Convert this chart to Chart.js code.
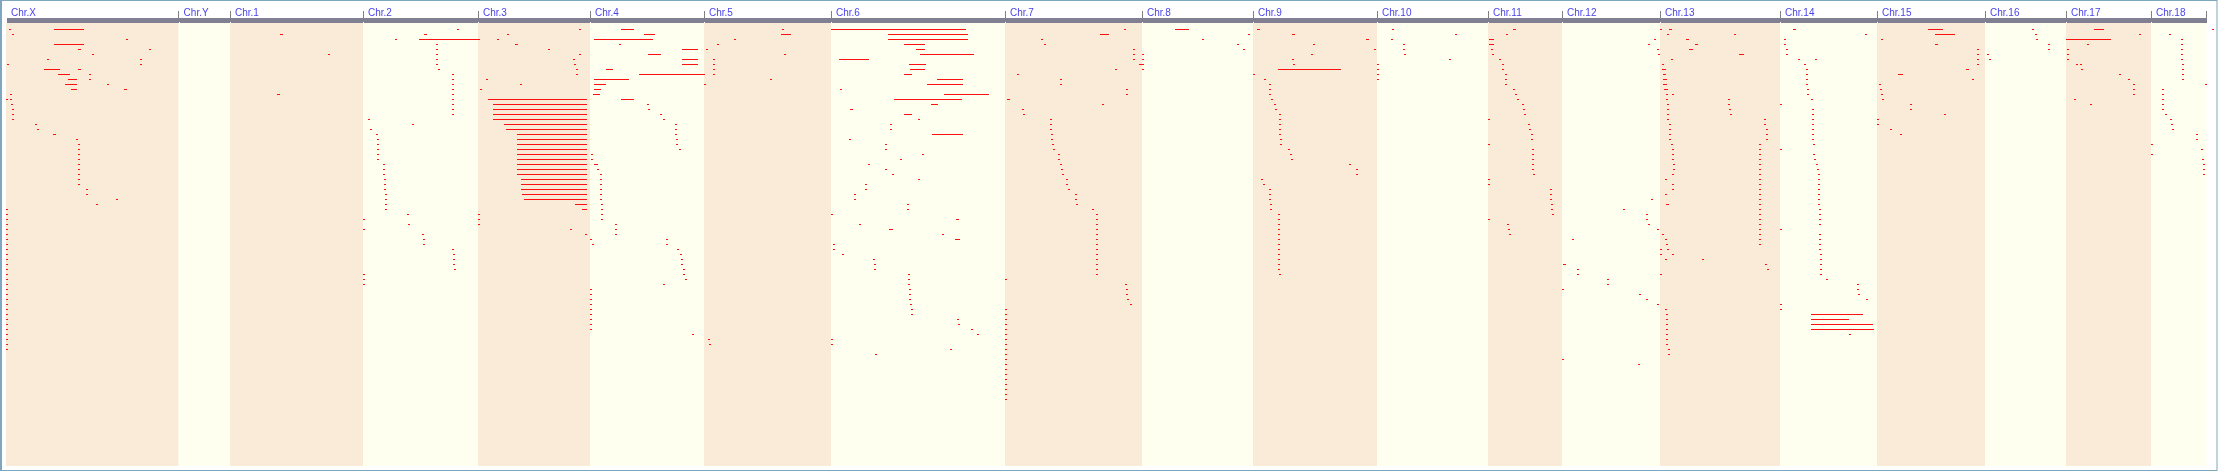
<!DOCTYPE html>
<html>
<head>
<meta charset="utf-8">
<title>Chromosome map</title>
<style>
  html, body { margin: 0; padding: 0; background: #fff; overflow: hidden; }
  canvas { display: block; }
</style>
<script src="https://cdn.jsdelivr.net/npm/chart.js@4/dist/chart.umd.min.js"></script>
</head>
<body>
<canvas id="chromChart" width="2218" height="471"></canvas>
<script>
// chromosome names and where each one starts on the concatenated axis
const chromNames = ['Chr.X', 'Chr.Y', 'Chr.1', 'Chr.2', 'Chr.3', 'Chr.4', 'Chr.5', 'Chr.6', 'Chr.7', 'Chr.8', 'Chr.9',
    'Chr.10', 'Chr.11', 'Chr.12', 'Chr.13', 'Chr.14', 'Chr.15', 'Chr.16', 'Chr.17', 'Chr.18', ''];
const chromStarts = [6, 178.6, 230, 363, 478, 590, 704, 831, 1005, 1142, 1253, 1377, 1488, 1562, 1660, 1780, 1877, 1985, 2066, 2151, 2206.6];

// spans are [row, start, end], dots are [row, position]
const chrXSpans = [[0, 54, 84], [3, 54, 84], [4, 78, 81], [8, 44, 60], [8, 78, 81], [9, 58, 70], [10, 68, 77], [11, 65, 77], [12, 71, 77], [12, 124, 127], [21, 53, 56]];
const chrXDots = [[0, 10], [1, 13], [2, 127], [4, 150], [5, 93], [6, 48], [6, 141], [7, 8], [7, 141], [9, 90], [10, 90], [11, 108],
    [13, 11], [14, 7], [14, 11], [15, 12], [16, 13], [17, 13], [18, 13], [19, 36], [20, 38], [22, 77],
    [23, 79], [24, 79], [25, 79], [26, 79], [27, 79], [28, 79], [29, 79], [30, 79], [31, 79], [32, 87], [33, 87], [34, 117], [35, 97],
    [36, 7], [37, 7], [38, 7], [39, 7], [40, 7], [41, 7], [42, 7], [43, 7], [44, 7], [45, 7], [46, 7], [47, 7], [48, 7], [49, 7], [50, 7],
    [51, 7], [52, 7], [53, 7], [54, 7], [55, 7], [56, 7], [57, 7], [58, 7], [59, 7], [60, 7], [61, 7], [62, 7], [63, 7], [64, 7]];

const chr1Spans = [[1, 280, 283], [13, 277, 280]];
const chr1Dots = [[5, 329]];

const chr2Spans = [[1, 424, 427], [2, 419, 480]];
const chr2Dots = [[0, 458], [2, 396], [3, 437], [4, 437], [5, 437], [6, 437], [7, 437], [8, 439],
    [9, 453], [10, 453], [11, 453], [12, 453], [13, 453], [14, 453], [15, 453], [16, 453], [17, 453],
    [18, 369], [19, 413], [20, 371], [21, 377], [22, 378], [23, 378], [24, 378], [25, 378], [26, 378],
    [27, 384], [28, 384], [29, 384], [30, 385], [31, 385], [32, 385], [33, 386], [34, 386], [35, 386], [36, 386],
    [37, 408], [38, 364], [39, 409], [40, 364], [41, 423], [42, 424], [43, 424], [44, 453], [45, 454], [46, 454], [47, 454], [48, 455],
    [49, 364], [50, 364], [51, 364]];

const chr3Spans = [[14, 488, 587], [15, 493, 587], [16, 493, 587], [17, 493, 587], [18, 493, 587], [19, 504, 587], [20, 506, 587],
    [21, 517, 587], [22, 517, 587], [23, 517, 587], [24, 517, 587], [25, 517, 587], [26, 517, 587], [27, 517, 587], [28, 517, 587], [29, 517, 587],
    [30, 521, 587], [31, 521, 587], [32, 521, 587], [33, 522, 587], [34, 524, 587], [35, 575, 587], [36, 582, 587], [3, 515, 518]];
const chr3Dots = [[0, 580], [1, 508], [2, 498], [4, 549], [5, 580], [6, 574], [7, 575], [8, 577], [9, 577], [10, 487], [11, 521], [12, 481],
    [37, 479], [38, 479], [39, 479], [40, 571], [41, 586]];

const chr4Spans = [[0, 621, 634], [1, 644, 655], [2, 594, 653], [4, 682, 698], [5, 648, 661], [6, 682, 698], [7, 682, 698], [8, 606, 613],
    [9, 639, 705], [10, 594, 629], [11, 594, 606], [12, 594, 601], [13, 593, 600], [14, 621, 634], [27, 594, 598]];
const chr4Dots = [[3, 620], [15, 648], [16, 649], [17, 661], [18, 664], [19, 676], [20, 676], [21, 676], [22, 677], [23, 677], [24, 680],
    [25, 592], [26, 592], [28, 598], [29, 601], [30, 601], [31, 601], [32, 601], [33, 601], [34, 601], [35, 602], [36, 602], [37, 602], [38, 602],
    [39, 616], [40, 616], [41, 616], [42, 591], [42, 667], [43, 593], [43, 667], [44, 678], [45, 681], [46, 682], [47, 682], [48, 684], [49, 684], [50, 686],
    [51, 664], [52, 591], [53, 591], [54, 591], [55, 591], [56, 591], [57, 591], [58, 591], [59, 591], [60, 591], [61, 693]];

const chr5Spans = [[1, 781, 791]];
const chr5Dots = [[0, 783], [2, 735], [3, 718], [4, 707], [5, 785], [6, 714], [7, 714], [8, 714], [9, 714], [10, 771], [11, 705], [62, 709], [63, 710]];

const chr6Spans = [[0, 831, 966], [1, 888, 968], [2, 888, 968], [3, 904, 925], [4, 916, 925], [5, 920, 974], [6, 839, 869], [7, 909, 926], [8, 910, 925],
    [9, 904, 912], [10, 937, 963], [11, 927, 963], [13, 944, 989], [14, 894, 962], [15, 931, 938], [16, 850, 853], [17, 904, 912], [21, 932, 963],
    [38, 956, 959], [40, 889, 893], [42, 955, 960]];
const chr6Dots = [[12, 841], [18, 919], [19, 891], [20, 891], [22, 850], [23, 886], [24, 886], [25, 923], [26, 901], [27, 869], [28, 886], [29, 893], [30, 919],
    [31, 866], [32, 866], [33, 855], [34, 855], [35, 908], [36, 908], [37, 832], [39, 860], [41, 943], [43, 834], [44, 834], [45, 843], [46, 874], [47, 875], [48, 875],
    [49, 909], [50, 909], [51, 909], [52, 910], [53, 910], [54, 910], [55, 911], [56, 912], [57, 912], [58, 958], [59, 959], [60, 972], [61, 978],
    [62, 832], [63, 832], [64, 951], [65, 876]];

const chr7Spans = [[1, 1100, 1109], [14, 1007, 1010]];
const chr7Dots = [[0, 1125], [2, 1042], [3, 1045], [4, 1134], [5, 1134], [6, 1134], [8, 1116], [9, 1018], [10, 1061], [11, 1061], [12, 1127], [13, 1127],
    [15, 1103], [16, 1023], [17, 1024], [18, 1051], [19, 1051], [20, 1051], [21, 1052], [22, 1052], [23, 1053], [24, 1054], [25, 1059], [26, 1059],
    [27, 1061], [28, 1062], [29, 1063], [30, 1067], [31, 1067], [32, 1069], [33, 1076], [34, 1076], [35, 1077], [36, 1093],
    [37, 1097], [38, 1097], [39, 1097], [40, 1097], [41, 1097], [42, 1097], [43, 1097], [44, 1097], [45, 1097], [46, 1097], [47, 1097], [48, 1097], [49, 1097],
    [50, 1006], [51, 1126], [52, 1127], [53, 1127], [54, 1128], [55, 1131],
    [56, 1006], [57, 1006], [58, 1006], [59, 1006], [60, 1006], [61, 1006], [62, 1006], [63, 1006], [64, 1006], [65, 1006],
    [66, 1006], [67, 1006], [68, 1006], [69, 1006], [70, 1006], [71, 1006], [72, 1006], [73, 1006], [74, 1006]];

const chr8Spans = [[0, 1175, 1189], [7, 1139, 1144]];
const chr8Dots = [[1, 1249], [2, 1203], [3, 1238], [4, 1244], [5, 1143], [6, 1143], [8, 1143]];

const chr9Spans = [[0, 1257, 1260], [1, 1292, 1295], [2, 1366, 1369], [8, 1278, 1341]];
const chr9Dots = [[3, 1314], [4, 1375], [5, 1312], [6, 1293], [7, 1294], [9, 1254], [10, 1265], [11, 1270], [12, 1270], [13, 1270], [14, 1272], [15, 1275], [16, 1276],
    [17, 1280], [18, 1280], [19, 1280], [20, 1280], [21, 1280], [22, 1281], [23, 1281], [24, 1289], [25, 1291], [26, 1292], [27, 1350], [28, 1357], [29, 1357],
    [30, 1262], [31, 1264], [32, 1270], [33, 1270], [34, 1270], [35, 1271], [36, 1271],
    [37, 1279], [38, 1279], [39, 1279], [40, 1279], [41, 1279], [42, 1279], [43, 1279], [44, 1279], [45, 1279], [46, 1279], [47, 1279], [48, 1279], [49, 1280]];

const chr10Spans = [];
const chr10Dots = [[0, 1393], [1, 1456], [2, 1392], [3, 1404], [4, 1404], [5, 1405], [6, 1450], [7, 1378], [8, 1378], [9, 1378], [10, 1378]];

const chr11Spans = [[0, 1513, 1516], [2, 1489, 1494], [3, 1489, 1494]];
const chr11Dots = [[1, 1507], [4, 1492], [5, 1493], [6, 1500], [7, 1503], [8, 1503], [9, 1506], [10, 1506], [11, 1506], [12, 1514], [13, 1516], [14, 1518],
    [15, 1523], [16, 1524], [17, 1525], [18, 1489], [19, 1529], [20, 1530], [21, 1532], [22, 1532], [23, 1489], [24, 1533], [25, 1533], [26, 1533], [27, 1533], [28, 1533], [29, 1534],
    [30, 1489], [31, 1489], [32, 1551], [33, 1551], [34, 1551], [35, 1552], [36, 1552], [37, 1553], [38, 1489], [39, 1508], [40, 1509], [41, 1510]];

const chr12Spans = [[47, 1563, 1566]];
const chr12Dots = [[2, 1655], [3, 1649], [4, 1658], [5, 1659], [34, 1652], [36, 1624], [37, 1647], [38, 1647], [39, 1649], [40, 1658], [42, 1573],
    [48, 1578], [49, 1578], [50, 1608], [51, 1608], [52, 1563], [53, 1640], [54, 1647], [55, 1658], [66, 1563], [67, 1639]];

const chr13Spans = [[0, 1669, 1672], [2, 1686, 1689], [3, 1695, 1698], [4, 1689, 1693], [5, 1739, 1744], [8, 1662, 1666], [9, 1663, 1666], [10, 1663, 1667], [11, 1663, 1667], [12, 1664, 1668], [35, 1666, 1669]];
const chr13Dots = [[0, 1661], [1, 1668], [1, 1735], [6, 1672], [7, 1663], [13, 1667], [13, 1673], [14, 1667], [14, 1729], [15, 1668], [15, 1729], [16, 1668], [16, 1730],
    [17, 1668], [17, 1731], [18, 1668], [18, 1765], [19, 1670], [19, 1765], [20, 1670], [20, 1767], [21, 1670], [21, 1767], [22, 1670], [22, 1767],
    [23, 1672], [24, 1673], [25, 1673], [26, 1673], [27, 1674], [28, 1674], [29, 1673], [30, 1666], [31, 1673], [32, 1673], [33, 1666],
    [23, 1760], [24, 1760], [25, 1760], [26, 1760], [27, 1760], [28, 1760], [29, 1760], [30, 1760], [31, 1760], [32, 1760], [33, 1760],
    [34, 1760], [35, 1760], [36, 1760], [37, 1760], [38, 1760], [39, 1760], [40, 1760], [41, 1760], [42, 1760], [43, 1760],
    [41, 1663], [42, 1666], [43, 1667], [44, 1661], [44, 1668], [45, 1661], [45, 1673], [46, 1666], [46, 1703], [47, 1766], [48, 1768], [49, 1661],
    [56, 1666], [57, 1667], [58, 1667], [59, 1667], [60, 1667], [61, 1667], [62, 1667], [63, 1667], [64, 1669], [65, 1669]];

const chr14Spans = [[0, 1793, 1796], [57, 1811, 1863], [58, 1811, 1849], [59, 1811, 1873], [60, 1811, 1874]];
const chr14Dots = [[1, 1866], [2, 1785], [3, 1785], [4, 1787], [5, 1787], [6, 1799], [6, 1816], [7, 1805], [8, 1807], [9, 1807], [10, 1807], [11, 1807], [12, 1808], [13, 1808], [14, 1812], [15, 1781],
    [16, 1813], [17, 1813], [18, 1813], [19, 1813], [20, 1813], [21, 1813], [22, 1813], [23, 1814], [24, 1781], [25, 1814], [26, 1815], [27, 1817], [28, 1818],
    [29, 1819], [30, 1819], [31, 1819], [32, 1819], [33, 1819], [34, 1819], [35, 1819], [36, 1820], [37, 1820], [38, 1820], [39, 1820], [40, 1781],
    [41, 1820], [42, 1820], [43, 1820], [44, 1820], [45, 1821], [46, 1821], [47, 1821], [48, 1821], [49, 1821], [50, 1827], [51, 1858], [52, 1858], [53, 1859], [54, 1867],
    [55, 1781], [56, 1781], [61, 1850]];

const chr15Spans = [[0, 1928, 1943], [1, 1935, 1955], [3, 1935, 1938], [8, 1966, 1969], [9, 1898, 1903]];
const chr15Dots = [[2, 1882], [4, 1978], [5, 1978], [6, 1978], [7, 1978], [10, 1973], [11, 1880], [12, 1881], [13, 1882], [14, 1883], [15, 1911], [16, 1911], [17, 1945], [18, 1878], [19, 1878], [20, 1891], [21, 1901]];

const chr16Spans = [];
const chr16Dots = [[0, 2033], [1, 2036], [2, 2037], [3, 2049], [4, 2049], [5, 1988], [6, 1990]];

const chr17Spans = [[0, 2094, 2104], [2, 2066, 2111]];
const chr17Dots = [[1, 2140], [3, 2088], [4, 2068], [5, 2068], [6, 2068], [7, 2077], [7, 2081], [8, 2082], [9, 2120], [10, 2129], [11, 2134], [12, 2134], [13, 2134], [14, 2075], [15, 2091]];

const chr18Spans = [];
const chr18Dots = [[0, 2213], [1, 2170], [2, 2182], [3, 2182], [4, 2182], [5, 2182], [6, 2182], [7, 2183], [8, 2183], [9, 2183], [10, 2183], [11, 2206],
    [12, 2163], [13, 2163], [14, 2163], [15, 2163], [16, 2163], [17, 2166], [18, 2171], [19, 2172], [20, 2173], [21, 2197], [22, 2197], [23, 2152], [24, 2202], [25, 2152],
    [26, 2203], [27, 2204], [28, 2204], [29, 2204]];

const allSpans = [chrXSpans, chr1Spans, chr2Spans, chr3Spans, chr4Spans, chr5Spans, chr6Spans, chr7Spans, chr8Spans, chr9Spans,
    chr10Spans, chr11Spans, chr12Spans, chr13Spans, chr14Spans, chr15Spans, chr16Spans, chr17Spans, chr18Spans].flat();
const allDots = [chrXDots, chr1Dots, chr2Dots, chr3Dots, chr4Dots, chr5Dots, chr6Dots, chr7Dots, chr8Dots, chr9Dots,
    chr10Dots, chr11Dots, chr12Dots, chr13Dots, chr14Dots, chr15Dots, chr16Dots, chr17Dots, chr18Dots].flat();

const hitData = allSpans.map(s => ({ x: [s[1], s[2]], y: s[0] }))
    .concat(allDots.map(d => ({ x: [d[1] - 1, d[1] + 1], y: d[0] })));

const bandColors = ['#f9ebd8', '#fffff0'];
const headerGrey = '#808092';
const frameColor = '#7ea6bf';

// bands, grey header strip and outer frame, all hung off the x scale
const mapBackground = {
    id: 'mapBackground',
    beforeDatasetsDraw(chart) {
        const { ctx, chartArea, scales: { x } } = chart;
        ctx.save();
        for (let i = 0; i < chromStarts.length - 1; i++) {
            const left = x.getPixelForValue(chromStarts[i]);
            const right = x.getPixelForValue(chromStarts[i + 1]);
            ctx.fillStyle = bandColors[i % 2];
            ctx.fillRect(left, chartArea.top, right - left, chartArea.bottom - chartArea.top);
        }
        const stripLeft = x.getPixelForValue(chromStarts[0]);
        const stripRight = x.getPixelForValue(chromStarts[chromStarts.length - 1]);
        ctx.fillStyle = headerGrey;
        ctx.fillRect(stripLeft + 1, chartArea.top - 5, stripRight - stripLeft - 1, 5);
        ctx.fillStyle = '#ffffff';
        chromStarts.slice(1).forEach(v => {
            ctx.fillRect(Math.round(x.getPixelForValue(v)), chartArea.top - 1, 1, 1);
        });
        ctx.strokeStyle = frameColor;
        ctx.lineWidth = 1;
        ctx.strokeRect(0.5, 0.5, chart.width - 1.5, chart.height - 1);
        ctx.fillStyle = frameColor;
        ctx.fillRect(0, 0, 2, chart.height);
        ctx.restore();
    }
};

new Chart(document.getElementById('chromChart'), {
    type: 'bar',
    data: {
        datasets: [{
            label: 'Hits',
            data: hitData,
            backgroundColor: '#ff1010',
            barThickness: 1,
            inflateAmount: 0,
            borderWidth: 0
        }]
    },
    options: {
        indexAxis: 'y',
        responsive: false,
        animation: false,
        events: [],
        layout: { padding: { left: 0, right: 0, top: 0, bottom: 5 } },
        plugins: { legend: { display: false }, tooltip: { enabled: false }, title: { display: false } },
        scales: {
            x: {
                type: 'linear',
                position: 'top',
                min: 0,
                max: 2218,
                afterBuildTicks: scale => { scale.ticks = chromStarts.map(v => ({ value: v })); },
                afterFit: scale => { scale.height = 23; },
                grid: {
                    drawOnChartArea: false,
                    tickLength: 12,
                    color: ctx => ctx.index === 0 ? 'rgba(0,0,0,0)' : '#808080'
                },
                border: { display: false },
                ticks: {
                    autoSkip: false,
                    maxRotation: 0,
                    align: 'start',
                    labelOffset: 5,
                    padding: -8,
                    color: '#4a44e8',
                    font: { family: '"Liberation Sans", Arial, sans-serif', size: 10 },
                    callback: (value, index) => chromNames[index]
                }
            },
            y: {
                type: 'linear',
                display: false,
                reverse: true,
                offset: false,
                min: -1.3,
                max: 87.3
            }
        }
    },
    plugins: [mapBackground]
});
</script>
</body>
</html>
